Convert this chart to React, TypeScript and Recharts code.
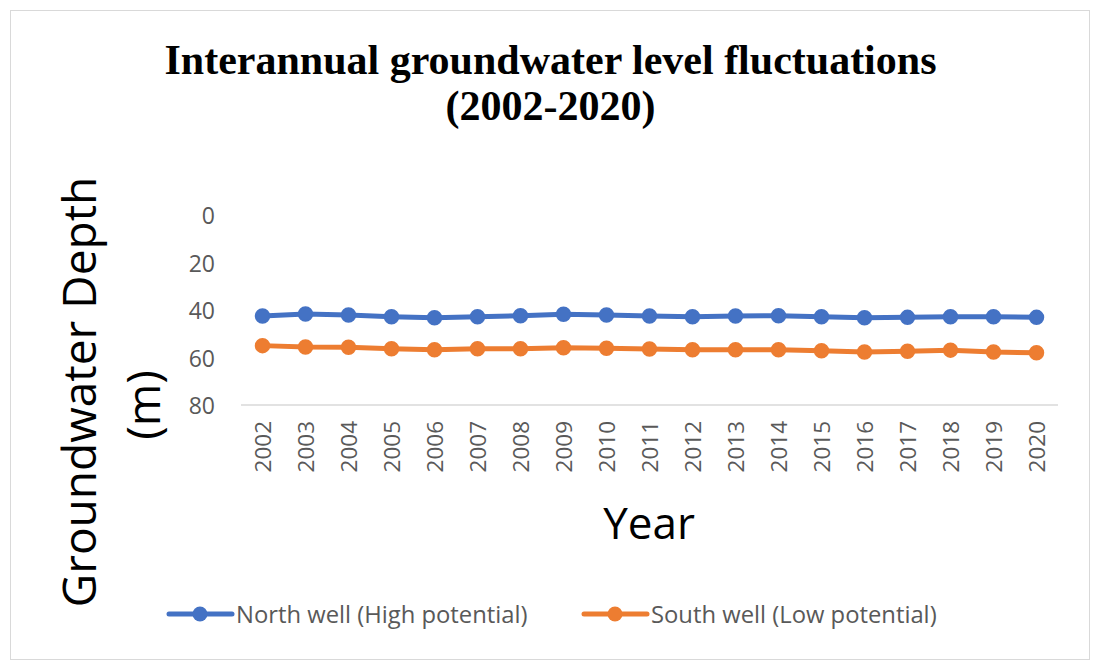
import React from "react";
import { LineChart, Line, XAxis, YAxis, Legend } from "recharts";

const years = ["2002","2003","2004","2005","2006","2007","2008","2009","2010","2011","2012","2013","2014","2015","2016","2017","2018","2019","2020"];
const northWell = [42.5,41.7,42.1,42.8,43.3,42.8,42.4,41.8,42.1,42.5,42.8,42.5,42.4,42.8,43.3,43.1,42.8,42.8,43.1];
const southWell = [55.0,55.6,55.7,56.3,56.7,56.3,56.3,55.9,56.1,56.4,56.7,56.7,56.7,57.2,57.7,57.4,56.9,57.7,58.0];
const yTicks = [0, 20, 40, 60, 80];
const seriesNames = ["North well (High potential)", "South well (Low potential)"];

const data = years.map((y, i) => ({ year: y, north: northWell[i], south: southWell[i] }));

const BLUE = "#4472C4";
const ORANGE = "#ED7D31";
const GREY = "#595959";
const FONT = "'Open Sans', sans-serif";

const XTick = (props: any) => {
  const { x, y, payload } = props;
  return (
    <text x={x} y={y + 8} transform={`rotate(-90, ${x}, ${y + 8})`} textAnchor="end" dominantBaseline="central" fill={GREY} fontSize={22.5} fontFamily={FONT}>
      {payload.value}
    </text>
  );
};

const YTick = (props: any) => {
  const { y, payload } = props;
  return (
    <text x={215} y={y} textAnchor="end" dominantBaseline="central" fill={GREY} fontSize={23} fontFamily={FONT}>
      {payload.value}
    </text>
  );
};

const LegendContent = () => {
  const items = [
    { name: seriesNames[0], color: BLUE, x: 169 },
    { name: seriesNames[1], color: ORANGE, x: 584 },
  ];
  return (
    <svg width={1101} height={40} style={{ display: "block" }}>
      {items.map((it) => (
        <g key={it.name}>
          <line x1={it.x} y1={20} x2={it.x + 63} y2={20} stroke={it.color} strokeWidth={5} strokeLinecap="round" />
          <circle cx={it.x + 31} cy={20} r={7.5} fill={it.color} />
          <text x={it.x + 67} y={20} dominantBaseline="central" fill={GREY} fontSize={23.8} fontFamily={FONT}>{it.name}</text>
        </g>
      ))}
    </svg>
  );
};

export default function App() {
  return (
    <div style={{ position: "absolute", left: 0, top: 0, width: 1101, height: 670, background: "#fff" }}>
      <div style={{ position: "absolute", left: 10, top: 10, width: 1078, height: 648, border: "1.5px solid #d9d9d9" }} />
      <div style={{ position: "absolute", left: 0, top: 37, width: 1101, textAlign: "center", fontFamily: "'Liberation Serif', 'Times New Roman', serif", fontWeight: "bold", fontSize: 42, lineHeight: "46px", color: "#000" }}>
        Interannual groundwater level fluctuations<br />(2002-2020)
      </div>
      <div style={{ position: "absolute", left: 0, top: 0 }}>
        <LineChart width={1101} height={670} data={data} margin={{ top: 215, right: 43, left: 181, bottom: 175 }}>
          <XAxis dataKey="year" height={50} tick={<XTick />} tickLine={false} axisLine={{ stroke: "#d9d9d9", strokeWidth: 1.5 }} interval={0} padding={{ left: 21.5, right: 21.5 }} />
          <YAxis width={60} domain={[0, 80]} ticks={yTicks} reversed tick={<YTick />} tickLine={false} axisLine={false} />
          <Legend verticalAlign="bottom" content={<LegendContent />} wrapperStyle={{ position: "absolute", left: 0, top: 594, width: 1101, height: 40 }} />
          <Line type="linear" dataKey="north" name={seriesNames[0]} stroke={BLUE} strokeWidth={5} dot={{ r: 7, fill: BLUE, stroke: BLUE, strokeWidth: 1.5 }} isAnimationActive={false} />
          <Line type="linear" dataKey="south" name={seriesNames[1]} stroke={ORANGE} strokeWidth={5} dot={{ r: 7, fill: ORANGE, stroke: ORANGE, strokeWidth: 1.5 }} isAnimationActive={false} />
        </LineChart>
      </div>
      <div style={{ position: "absolute", left: 0, top: 0, pointerEvents: "none" }}>
        <svg width={1101} height={670}>
          <text x={649} y={522} textAnchor="middle" dominantBaseline="central" fontSize={44} fontFamily={FONT} fill="#000">Year</text>
          <text x={78} y={392} transform="rotate(-90, 78, 392)" textAnchor="middle" dominantBaseline="central" fontSize={46} fontFamily={FONT} fill="#000">Groundwater Depth</text>
          <text x={142} y={405} transform="rotate(-90, 142, 405)" textAnchor="middle" dominantBaseline="central" fontSize={46} fontFamily={FONT} fill="#000">(m)</text>
        </svg>
      </div>
    </div>
  );
}
